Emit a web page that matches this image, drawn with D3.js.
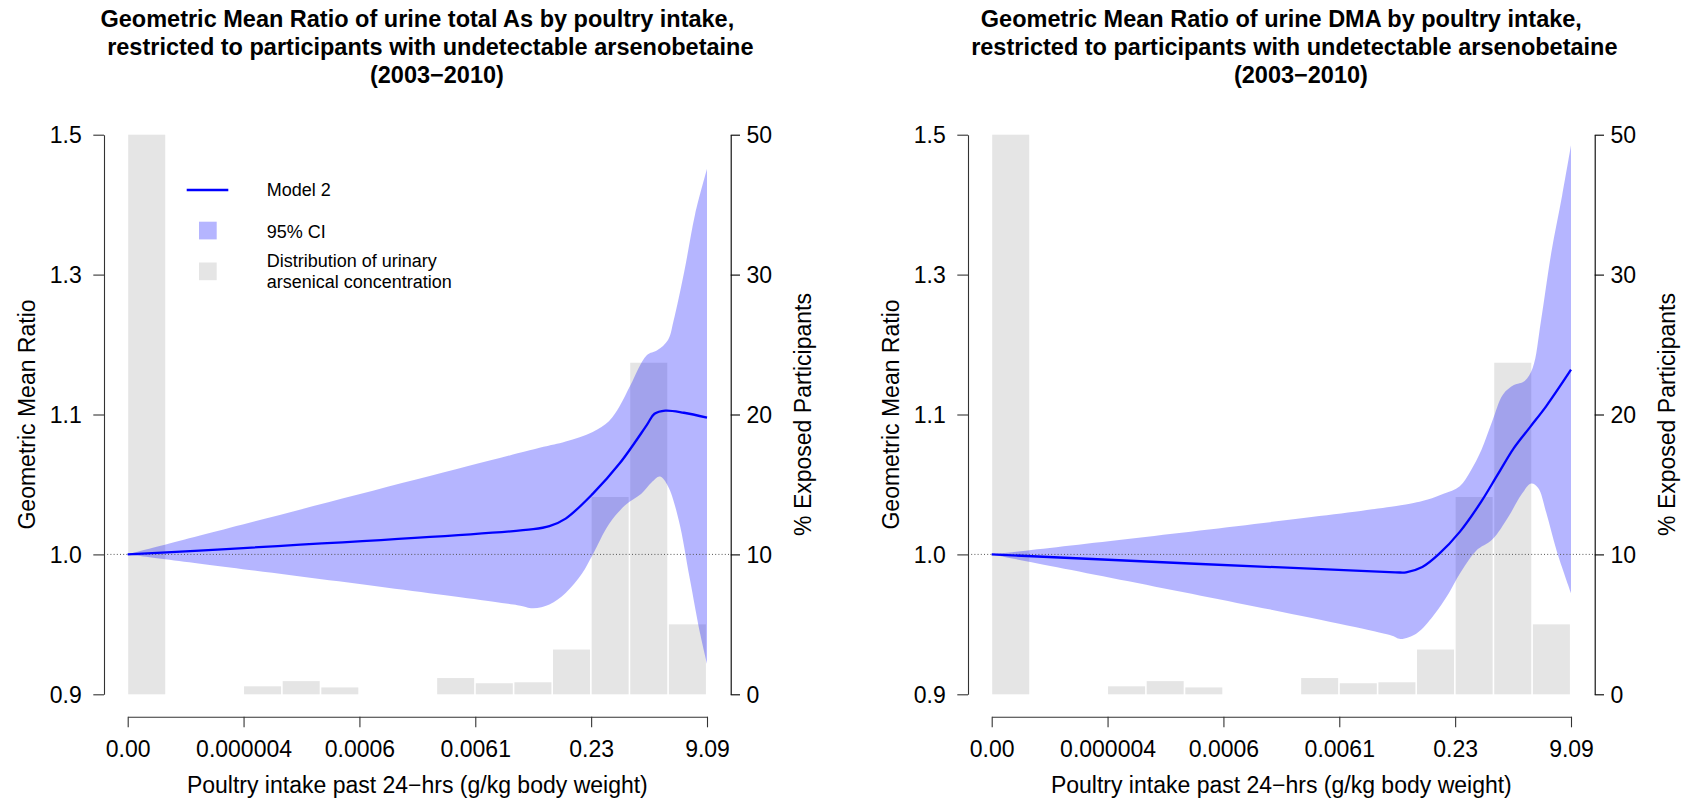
<!DOCTYPE html>
<html>
<head>
<meta charset="utf-8">
<script src="https://cdn.jsdelivr.net/npm/d3@7"></script>
<style>
  html, body { margin: 0; padding: 0; background: #fff; }
  text { font-family: "Liberation Sans", Arial, Helvetica, sans-serif; }
</style>
</head>
<body>
<script>
// ---------- data ----------
const xTickLabels = ["0.00", "0.000004", "0.0006", "0.0061", "0.23", "9.09"];
const xTickSlots = [0, 3, 6, 9, 12, 15];
const yTicks = [0.9, 1.0, 1.1, 1.3, 1.5];
const pctTicks = [0, 10, 20, 30, 50];

// distribution bars (slot index, % exposed participants)
const barSlots = [0, 3, 4, 5, 8, 9, 10, 11, 12, 13, 14];
const barPct   = [50, 0.57, 0.94, 0.49, 1.16, 0.79, 0.86, 3.2, 14.1, 23.7, 5.0];

// Left panel: urine total As  [slot position, GMR]
const totalAsModel = [[0,1.0],[10.5,1.018],[10.92,1.0202],[11.34,1.0256],[12.04,1.0433],[12.74,1.0651],[13.44,1.0924],[13.64,1.101],[13.92,1.1055],[14.4,1.1025],[15,1.0978]];
const totalAsUpper = [[0,1.0],[10.64,1.076],[11.34,1.0807],[12.04,1.0875],[12.46,1.0951],[12.74,1.112],[13.02,1.142],[13.44,1.1846],[13.71,1.1917],[13.99,1.2066],[14.13,1.233],[14.41,1.304],[14.69,1.386],[15,1.451]];
const totalAsLower = [[0,1.0],[10.09,0.9637],[10.5,0.9615],[10.92,0.9642],[11.34,0.9724],[11.76,0.9861],[12.04,0.9997],[12.46,1.0215],[12.88,1.0351],[13.30,1.0433],[13.57,1.0515],[13.78,1.0556],[13.99,1.0488],[14.27,1.0243],[14.55,0.9833],[14.83,0.9423],[15,0.9219]];

// Right panel: urine DMA
const dmaModel = [[0,1.0],[10.45,0.9872],[10.73,0.9872],[11.15,0.991],[11.57,1.0],[12.12,1.0161],[12.68,1.0379],[13.10,1.057],[13.52,1.076],[13.94,1.091],[14.36,1.112],[15,1.164]];
const dmaUpper = [[0,1.0],[10.59,1.0351],[11.29,1.0392],[11.70,1.0433],[12.12,1.0488],[12.40,1.0597],[12.68,1.0747],[12.96,1.0951],[13.24,1.1286],[13.52,1.142],[13.80,1.148],[14.01,1.167],[14.22,1.233],[14.49,1.3315],[14.77,1.413],[15,1.485]];
const dmaLower = [[0,1.0],[10.31,0.9424],[10.59,0.9396],[11.01,0.9437],[11.43,0.956],[11.84,0.9724],[12.12,0.9861],[12.54,1.0025],[12.96,1.0106],[13.38,1.027],[13.73,1.0433],[13.97,1.0507],[14.15,1.0475],[14.36,1.0297],[14.63,1.0025],[15,0.9724]];

const titlesLeft = ["Geometric Mean Ratio of urine total As by poultry intake,",
                    "restricted to participants with undetectable arsenobetaine",
                    "(2003\u22122010)"];
const titlesRight = ["Geometric Mean Ratio of urine DMA by poultry intake,",
                     "restricted to participants with undetectable arsenobetaine",
                     "(2003\u22122010)"];
const xTitle = "Poultry intake past 24\u2212hrs (g/kg body weight)";
const yTitle = "Geometric Mean Ratio";
const y2Title = "% Exposed Participants";
const legendLabels = ["Model 2", "95% CI", ["Distribution of urinary", "arsenical concentration"]];

// ---------- drawing ----------
const W = 1690, H = 802;
const svg = d3.select("body").append("svg").attr("width", W).attr("height", H);
svg.append("rect").attr("width", W).attr("height", H).attr("fill", "#fff");

const FONT = "'Liberation Sans', Arial, Helvetica, sans-serif";
const yRange = [694.3, 554.4, 414.5, 274.6, 134.7];

function drawPanel(off, titles, model, upper, lower, legend) {
  const g = svg.append("g");
  const x = d3.scaleLinear().domain([0, 15]).range([127.7 + off, 707 + off]);
  const y = d3.scaleLinear().domain(yTicks).range(yRange);
  const yp = d3.scaleLinear().domain(pctTicks).range(yRange);
  const slotW = x(1) - x(0);

  // bars
  g.selectAll("rect.bar").data(barSlots).join("rect")
    .attr("class", "bar")
    .attr("x", (d) => x(d) + 0.5)
    .attr("width", slotW - 1.6)
    .attr("y", (d, i) => yp(barPct[i]))
    .attr("height", (d, i) => yp(0) - yp(barPct[i]))
    .attr("fill", "#e5e5e5");

  // CI band
  const cr = d3.curveCatmullRom.alpha(0.5);
  const ln = d3.line().x(d => x(d[0])).y(d => y(d[1])).curve(cr);
  const upD = ln(upper);
  const loD = ln(lower.slice().reverse());
  g.append("path").attr("d", upD + "L" + loD.slice(1) + "Z")
    .attr("fill", "rgba(0,0,255,0.29)").attr("stroke", "none");

  // reference dotted line
  g.append("line")
    .attr("x1", 104 + off).attr("x2", 730.7 + off)
    .attr("y1", y(1.0)).attr("y2", y(1.0))
    .attr("stroke", "#555").attr("stroke-width", 1).attr("stroke-dasharray", "1,2.2");

  // model line
  g.append("path").attr("d", ln(model))
    .attr("fill", "none").attr("stroke", "#0000ff").attr("stroke-width", 2.3);

  // axes
  const axL = g.append("g").attr("transform", `translate(${104 + off},0)`)
    .call(d3.axisLeft(y).tickValues(yTicks).tickFormat(d3.format(".1f"))
      .tickSize(10.7).tickSizeOuter(0).tickPadding(11.6));
  const axR = g.append("g").attr("transform", `translate(${730.7 + off},0)`)
    .call(d3.axisRight(yp).tickValues(pctTicks).tickFormat(d3.format("d"))
      .tickSize(9.3).tickSizeOuter(0).tickPadding(6.5));
  const axB = g.append("g").attr("transform", `translate(0,716.7)`)
    .call(d3.axisBottom(x).tickValues(xTickSlots).tickFormat((d, i) => xTickLabels[i])
      .tickSize(10.6).tickSizeOuter(0).tickPadding(13.8));
  [axL, axR, axB].forEach(a => {
    a.attr("font-size", null).attr("font-family", null);
    a.selectAll("text").attr("font-size", "23px").attr("font-family", FONT).attr("fill", "#000");
    a.selectAll("path,line").attr("stroke", "#333").attr("stroke-width", 1.1);
  });
  axL.selectAll("text").attr("dy", "0.36em");
  axR.selectAll("text").attr("dy", "0.36em");
  axR.selectAll("path,line").attr("stroke", "#000");

  // axis titles
  g.append("text").attr("x", (127.7 + 707) / 2 + off).attr("y", 793.3)
    .attr("text-anchor", "middle").attr("font-size", "23px").attr("font-family", FONT)
    .text(xTitle);
  g.append("text").attr("transform", `translate(${35 + off},414.5) rotate(-90)`)
    .attr("text-anchor", "middle").attr("font-size", "23px").attr("font-family", FONT)
    .text(yTitle);
  g.append("text").attr("transform", `translate(${810.5 + off},414.5) rotate(-90)`)
    .attr("text-anchor", "middle").attr("font-size", "23px").attr("font-family", FONT)
    .text(y2Title);

  // title
  const cx = (127.7 + 707) / 2 + off;
  const tOff = [0, 13, 19.6];
  const tY = [27.3, 55.3, 83.3];
  titles.forEach((t, i) => {
    g.append("text").attr("x", cx + tOff[i]).attr("y", tY[i])
      .attr("text-anchor", "middle").attr("font-size", "23.5px").attr("font-weight", "bold")
      .attr("font-family", FONT).text(t);
  });

  if (legend) {
    const lg = g.append("g");
    lg.append("line").attr("x1", 186.7 + off).attr("x2", 228.3 + off)
      .attr("y1", 190).attr("y2", 190).attr("stroke", "#0000ff").attr("stroke-width", 2.3);
    lg.append("rect").attr("x", 199 + off).attr("y", 221.7).attr("width", 17.7).attr("height", 17.7)
      .attr("fill", "rgba(0,0,255,0.29)");
    lg.append("rect").attr("x", 199 + off).attr("y", 262.5).attr("width", 17.7).attr("height", 17.7)
      .attr("fill", "#e5e5e5");
    const lt = (s, yy) => lg.append("text").attr("x", 266.7 + off).attr("y", yy)
      .attr("font-size", "18px").attr("font-family", FONT).text(s);
    lt(legendLabels[0], 196.3);
    lt(legendLabels[1], 237.5);
    lt(legendLabels[2][0], 267.3);
    lt(legendLabels[2][1], 287.7);
  }
}

drawPanel(0, titlesLeft, totalAsModel, totalAsUpper, totalAsLower, true);
drawPanel(864, titlesRight, dmaModel, dmaUpper, dmaLower, false);
</script>
</body>
</html>
